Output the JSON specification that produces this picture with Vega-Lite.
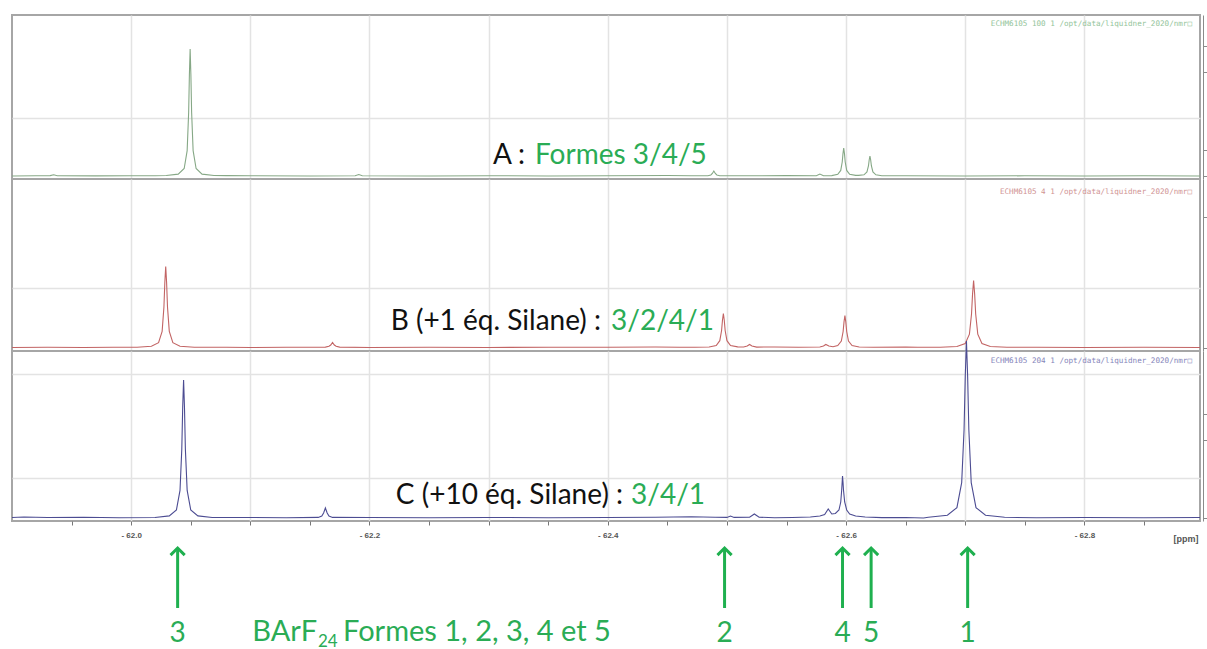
{
  "$schema": "https://vega.github.io/schema/vega-lite/v6.json",
  "background": "white",
  "padding": {"left": 8, "top": 14, "right": 0, "bottom": 4},
  "bounds": "flush",
  "spacing": 0,
  "config": {
    "view": {"stroke": "#a6a6a6", "strokeWidth": 2},
    "text": {"font": "Lato"}
  },
  "datasets": {
    "A": [
      {"ppm": -61.9, "i": 0}, {"ppm": -61.92, "i": 0.2}, {"ppm": -61.932, "i": 0.4}, {"ppm": -61.935, "i": 1.2}, {"ppm": -61.938, "i": 0.3}, {"ppm": -61.97, "i": 0.1}, {"ppm": -62.0, "i": 0.2}, {"ppm": -62.02, "i": 0.3},
      {"ppm": -62.0295, "i": 0.5}, {"ppm": -62.0395, "i": 1.9}, {"ppm": -62.0445, "i": 7.5}, {"ppm": -62.047, "i": 25.4}, {"ppm": -62.04825, "i": 63.5}, {"ppm": -62.048875, "i": 101.6}, {"ppm": -62.0495, "i": 127}, {"ppm": -62.050125, "i": 101.6}, {"ppm": -62.05075, "i": 63.5}, {"ppm": -62.052, "i": 25.4}, {"ppm": -62.0545, "i": 7.5}, {"ppm": -62.0595, "i": 1.9}, {"ppm": -62.0695, "i": 0.5},
      {"ppm": -62.08, "i": 0.4}, {"ppm": -62.1, "i": 0.2}, {"ppm": -62.15, "i": 0}, {"ppm": -62.188, "i": 0.3}, {"ppm": -62.191, "i": 1.5}, {"ppm": -62.194, "i": 0.3}, {"ppm": -62.25, "i": 0}, {"ppm": -62.3, "i": 0.3}, {"ppm": -62.35, "i": 0}, {"ppm": -62.4, "i": 0.2}, {"ppm": -62.45, "i": 0.5}, {"ppm": -62.47, "i": 0.3},
      {"ppm": -62.484, "i": 0.3}, {"ppm": -62.4865, "i": 1}, {"ppm": -62.48775, "i": 2.5}, {"ppm": -62.489, "i": 5}, {"ppm": -62.49025, "i": 2.5}, {"ppm": -62.4915, "i": 1}, {"ppm": -62.494, "i": 0.3},
      {"ppm": -62.52, "i": 0.2}, {"ppm": -62.55, "i": 0.4}, {"ppm": -62.575, "i": 0.3}, {"ppm": -62.578, "i": 2}, {"ppm": -62.581, "i": 0.3},
      {"ppm": -62.588, "i": 0.42}, {"ppm": -62.593, "i": 1.65}, {"ppm": -62.5955, "i": 5.6}, {"ppm": -62.59675, "i": 14}, {"ppm": -62.597375, "i": 22.4}, {"ppm": -62.598, "i": 28}, {"ppm": -62.598625, "i": 22.4}, {"ppm": -62.59925, "i": 14}, {"ppm": -62.6005, "i": 5.6}, {"ppm": -62.603, "i": 1.65}, {"ppm": -62.608, "i": 0.6},
      {"ppm": -62.6105, "i": 0.6}, {"ppm": -62.615, "i": 1.2}, {"ppm": -62.6175, "i": 4}, {"ppm": -62.61875, "i": 10}, {"ppm": -62.619375, "i": 16}, {"ppm": -62.62, "i": 20}, {"ppm": -62.620625, "i": 16}, {"ppm": -62.62125, "i": 10}, {"ppm": -62.6225, "i": 4}, {"ppm": -62.625, "i": 1.2}, {"ppm": -62.63, "i": 0.3},
      {"ppm": -62.65, "i": 0.3}, {"ppm": -62.7, "i": 0}, {"ppm": -62.75, "i": 0.2}, {"ppm": -62.8, "i": 0}, {"ppm": -62.85, "i": 0.3}, {"ppm": -62.897, "i": 0}
    ],
    "B": [
      {"ppm": -61.9, "i": 0}, {"ppm": -61.93, "i": 0.3}, {"ppm": -61.96, "i": 0}, {"ppm": -61.985, "i": 0.3},
      {"ppm": -62.005, "i": 0.3}, {"ppm": -62.017, "i": 1.2}, {"ppm": -62.023, "i": 4.8}, {"ppm": -62.026, "i": 16.2}, {"ppm": -62.0275, "i": 40.5}, {"ppm": -62.02825, "i": 64.8}, {"ppm": -62.029, "i": 81}, {"ppm": -62.02975, "i": 64.8}, {"ppm": -62.0305, "i": 40.5}, {"ppm": -62.032, "i": 16.2}, {"ppm": -62.035, "i": 4.8}, {"ppm": -62.041, "i": 1.2}, {"ppm": -62.053, "i": 0.3},
      {"ppm": -62.08, "i": 0.2}, {"ppm": -62.1, "i": 0}, {"ppm": -62.13, "i": 0.3},
      {"ppm": -62.163, "i": 0.4}, {"ppm": -62.166, "i": 1.2}, {"ppm": -62.1675, "i": 2.5}, {"ppm": -62.169, "i": 5}, {"ppm": -62.1705, "i": 2.5}, {"ppm": -62.172, "i": 1.2}, {"ppm": -62.175, "i": 0.4},
      {"ppm": -62.2, "i": 0}, {"ppm": -62.25, "i": 0.2}, {"ppm": -62.3, "i": 0}, {"ppm": -62.35, "i": 0.3}, {"ppm": -62.4, "i": 0.2}, {"ppm": -62.44, "i": 0.5}, {"ppm": -62.46, "i": 0.3},
      {"ppm": -62.473, "i": 0.2}, {"ppm": -62.485, "i": 0.5}, {"ppm": -62.491, "i": 2}, {"ppm": -62.494, "i": 6.8}, {"ppm": -62.4955, "i": 17}, {"ppm": -62.49625, "i": 27.2}, {"ppm": -62.497, "i": 34}, {"ppm": -62.49775, "i": 27.2}, {"ppm": -62.4985, "i": 17}, {"ppm": -62.5, "i": 6.8}, {"ppm": -62.503, "i": 2}, {"ppm": -62.509, "i": 0.6},
      {"ppm": -62.514, "i": 0.5}, {"ppm": -62.517, "i": 1.5}, {"ppm": -62.519, "i": 3}, {"ppm": -62.521, "i": 1.5}, {"ppm": -62.525, "i": 0.4},
      {"ppm": -62.54, "i": 0.5}, {"ppm": -62.56, "i": 0.3},
      {"ppm": -62.578, "i": 0.5}, {"ppm": -62.581, "i": 1.5}, {"ppm": -62.583, "i": 3}, {"ppm": -62.5855, "i": 1.5}, {"ppm": -62.589, "i": 0.8},
      {"ppm": -62.593, "i": 1.9}, {"ppm": -62.596, "i": 6.4}, {"ppm": -62.5975, "i": 16}, {"ppm": -62.59825, "i": 25.6}, {"ppm": -62.599, "i": 32}, {"ppm": -62.59975, "i": 25.6}, {"ppm": -62.6005, "i": 16}, {"ppm": -62.602, "i": 6.4}, {"ppm": -62.605, "i": 1.9}, {"ppm": -62.611, "i": 0.5}, {"ppm": -62.623, "i": 0.2},
      {"ppm": -62.65, "i": 0.5}, {"ppm": -62.66, "i": 0.2},
      {"ppm": -62.679, "i": 0.27}, {"ppm": -62.693, "i": 1}, {"ppm": -62.7, "i": 4}, {"ppm": -62.7035, "i": 13.4}, {"ppm": -62.70525, "i": 33.5}, {"ppm": -62.706125, "i": 53.6}, {"ppm": -62.707, "i": 67}, {"ppm": -62.707875, "i": 53.6}, {"ppm": -62.70875, "i": 33.5}, {"ppm": -62.7105, "i": 13.4}, {"ppm": -62.714, "i": 4}, {"ppm": -62.721, "i": 1}, {"ppm": -62.735, "i": 0.27},
      {"ppm": -62.76, "i": 0.3}, {"ppm": -62.8, "i": 0}, {"ppm": -62.85, "i": 0.2}, {"ppm": -62.897, "i": 0}
    ],
    "C": [
      {"ppm": -61.9, "i": 0.5}, {"ppm": -61.91, "i": 1}, {"ppm": -61.93, "i": 0.5}, {"ppm": -61.96, "i": 0.8}, {"ppm": -61.99, "i": 0.3},
      {"ppm": -62.02, "i": 0.55}, {"ppm": -62.032, "i": 2.1}, {"ppm": -62.038, "i": 8.1}, {"ppm": -62.041, "i": 27.6}, {"ppm": -62.0425, "i": 69}, {"ppm": -62.04325, "i": 110.4}, {"ppm": -62.044, "i": 138}, {"ppm": -62.04475, "i": 110.4}, {"ppm": -62.0455, "i": 69}, {"ppm": -62.047, "i": 27.6}, {"ppm": -62.05, "i": 8.1}, {"ppm": -62.056, "i": 2.1}, {"ppm": -62.068, "i": 0.55},
      {"ppm": -62.1, "i": 0.5}, {"ppm": -62.13, "i": 0.2},
      {"ppm": -62.157, "i": 0.6}, {"ppm": -62.16, "i": 2}, {"ppm": -62.1615, "i": 5}, {"ppm": -62.163, "i": 10}, {"ppm": -62.1645, "i": 5}, {"ppm": -62.166, "i": 2}, {"ppm": -62.169, "i": 0.6},
      {"ppm": -62.2, "i": 0.5}, {"ppm": -62.25, "i": 0.2}, {"ppm": -62.3, "i": 0.5}, {"ppm": -62.35, "i": 0.3}, {"ppm": -62.4, "i": 0.5}, {"ppm": -62.44, "i": 0.8}, {"ppm": -62.47, "i": 1.2}, {"ppm": -62.49, "i": 0.8},
      {"ppm": -62.5, "i": 0.6}, {"ppm": -62.503, "i": 2}, {"ppm": -62.506, "i": 0.6}, {"ppm": -62.519, "i": 0.8}, {"ppm": -62.523, "i": 4}, {"ppm": -62.527, "i": 0.8}, {"ppm": -62.54, "i": 0.3},
      {"ppm": -62.555, "i": 0.5}, {"ppm": -62.57, "i": 1}, {"ppm": -62.578, "i": 2}, {"ppm": -62.582, "i": 3.5}, {"ppm": -62.585, "i": 9}, {"ppm": -62.588, "i": 4}, {"ppm": -62.591, "i": 4.5}, {"ppm": -62.594, "i": 8}, {"ppm": -62.5955, "i": 16}, {"ppm": -62.5963, "i": 28}, {"ppm": -62.5967, "i": 36}, {"ppm": -62.597, "i": 42}, {"ppm": -62.5974, "i": 36}, {"ppm": -62.5978, "i": 28}, {"ppm": -62.5988, "i": 16}, {"ppm": -62.6005, "i": 8}, {"ppm": -62.603, "i": 4}, {"ppm": -62.608, "i": 2}, {"ppm": -62.616, "i": 1}, {"ppm": -62.63, "i": 0.4},
      {"ppm": -62.65, "i": 0.5}, {"ppm": -62.665, "i": 0},
      {"ppm": -62.669, "i": 0.7}, {"ppm": -62.685, "i": 2.7}, {"ppm": -62.693, "i": 10.4}, {"ppm": -62.697, "i": 35.4}, {"ppm": -62.699, "i": 88.5}, {"ppm": -62.7, "i": 141.6}, {"ppm": -62.701, "i": 177}, {"ppm": -62.702, "i": 141.6}, {"ppm": -62.703, "i": 88.5}, {"ppm": -62.705, "i": 35.4}, {"ppm": -62.709, "i": 10.4}, {"ppm": -62.717, "i": 2.7}, {"ppm": -62.733, "i": 0.7},
      {"ppm": -62.76, "i": 0.3}, {"ppm": -62.8, "i": 0.5}, {"ppm": -62.85, "i": 0.2}, {"ppm": -62.897, "i": 0.5}
    ],
    "arrows": [
      {"ppm": -62.039, "n": "3"}, {"ppm": -62.498, "n": "2"}, {"ppm": -62.597, "n": "4"}, {"ppm": -62.621, "n": "5"}, {"ppm": -62.702, "n": "1"}
    ]
  },
  "vconcat": [
    {
      "width": 1188, "height": 164,
      "title": {"text": "ECHM6105 100 1 /opt/data/liquidner_2020/nmr□", "anchor": "end", "frame": "group", "offset": -13, "dx": -8, "font": "DejaVu Sans Mono", "fontSize": 7.6, "fontWeight": "normal", "color": "#93c49a"},
      "layer": [
        {
          "data": {"name": "A"},
          "mark": {"type": "line", "color": "#86a886", "strokeWidth": 1.1},
          "encoding": {
            "x": {"field": "ppm", "type": "quantitative", "scale": {"domain": [-61.9, -62.897], "nice": false, "zero": false},
                  "axis": {"values": [-62.0, -62.1, -62.2, -62.3, -62.4, -62.5, -62.6, -62.7, -62.8], "grid": true, "gridColor": "#e3e3e3", "gridWidth": 1.5, "labels": false, "ticks": false, "domain": false, "title": null}},
            "y": {"field": "i", "type": "quantitative", "scale": {"domain": [-3, 161], "nice": false, "zero": false},
                  "axis": {"orient": "right", "offset": 3, "values": [0, 8, 26, 52, 58, 78, 104, 110, 130, 156], "labels": false, "tickSize": 4, "tickColor": "#8a8a8a", "domainColor": "#8a8a8a",
                           "tickOpacity": {"condition": {"test": "indexof([0,26,52,78,104,130,156], datum.value) >= 0", "value": 1}, "value": 0},
                           "grid": true, "gridColor": "#e3e3e3", "gridWidth": 1.5,
                           "gridOpacity": {"condition": {"test": "indexof([8,58,110], datum.value) >= 0", "value": 1}, "value": 0}, "title": null}}
          }
        },
        {
          "data": {"values": [{}]},
          "mark": {"type": "text", "align": "right", "baseline": "alphabetic", "fontSize": 28, "color": "#111111"},
          "encoding": {"x": {"datum": -62.3306}, "y": {"datum": 12}, "text": {"value": "A :"}}
        },
        {
          "data": {"values": [{}]},
          "mark": {"type": "text", "align": "left", "baseline": "alphabetic", "fontSize": 28, "color": "#2aac55"},
          "encoding": {"x": {"datum": -62.3389}, "y": {"datum": 12}, "text": {"value": "Formes 3/4/5"}}
        }
      ]
    },
    {
      "width": 1188, "height": 172,
      "title": {"text": "ECHM6105 4 1 /opt/data/liquidner_2020/nmr□", "anchor": "end", "frame": "group", "offset": -17, "dx": -8, "font": "DejaVu Sans Mono", "fontSize": 7.6, "fontWeight": "normal", "color": "#d09393"},
      "layer": [
        {
          "data": {"name": "B"},
          "mark": {"type": "line", "color": "#c26464", "strokeWidth": 1.1},
          "encoding": {
            "x": {"field": "ppm", "type": "quantitative", "scale": {"domain": [-61.9, -62.897], "nice": false, "zero": false},
                  "axis": {"values": [-62.0, -62.1, -62.2, -62.3, -62.4, -62.5, -62.6, -62.7, -62.8], "grid": true, "gridColor": "#e3e3e3", "gridWidth": 1.5, "labels": false, "ticks": false, "domain": false, "title": null}},
            "y": {"field": "i", "type": "quantitative", "scale": {"domain": [-3.5, 168.5], "nice": false, "zero": false},
                  "axis": {"orient": "right", "offset": 3, "values": [0, 8, 26, 52, 60, 78, 104, 112, 130, 156, 164], "labels": false, "tickSize": 4, "tickColor": "#8a8a8a", "domainColor": "#8a8a8a",
                           "tickOpacity": {"condition": {"test": "indexof([0,26,52,78,104,130,156], datum.value) >= 0", "value": 1}, "value": 0},
                           "grid": true, "gridColor": "#e3e3e3", "gridWidth": 1.5,
                           "gridOpacity": {"condition": {"test": "indexof([8,60,112,164], datum.value) >= 0", "value": 1}, "value": 0}, "title": null}}
          }
        },
        {
          "data": {"values": [{}]},
          "mark": {"type": "text", "align": "right", "baseline": "alphabetic", "fontSize": 28, "color": "#111111"},
          "encoding": {"x": {"datum": -62.3943}, "y": {"datum": 17.5}, "text": {"value": "B (+1 éq. Silane) :"}}
        },
        {
          "data": {"values": [{}]},
          "mark": {"type": "text", "align": "left", "baseline": "alphabetic", "fontSize": 28, "color": "#2aac55"},
          "encoding": {"x": {"datum": -62.4027}, "y": {"datum": 17.5}, "text": {"value": "3/2/4/1"}}
        }
      ]
    },
    {
      "width": 1188, "height": 170,
      "title": {"text": "ECHM6105 204 1 /opt/data/liquidner_2020/nmr□", "anchor": "end", "frame": "group", "offset": -26, "dx": -8, "font": "DejaVu Sans Mono", "fontSize": 7.6, "fontWeight": "normal", "color": "#8585ba"},
      "layer": [
        {
          "data": {"name": "C"},
          "mark": {"type": "line", "color": "#4c4c92", "strokeWidth": 1.1},
          "encoding": {
            "x": {"field": "ppm", "type": "quantitative", "scale": {"domain": [-61.9, -62.897], "nice": false, "zero": false},
                  "axis": {"values": [-61.95, -62.0, -62.05, -62.1, -62.15, -62.2, -62.25, -62.3, -62.35, -62.4, -62.45, -62.5, -62.55, -62.6, -62.65, -62.7, -62.75, -62.8, -62.85],
                           "domain": false, "ticks": true, "tickSize": 4, "tickColor": "#777777",
                           "grid": true, "gridColor": "#e3e3e3", "gridWidth": 1.5,
                           "gridOpacity": {"condition": {"test": "round(abs(datum.value)*100) % 10 === 0", "value": 1}, "value": 0},
                           "labelExpr": "round(abs(datum.value)*100) % 20 === 0 ? '- ' + format(abs(datum.value), '.1f') : ''",
                           "labelFont": "Liberation Sans", "labelFontSize": 8, "labelFontWeight": "bold", "labelColor": "#555555", "labelPadding": 6, "labelOverlap": false, "labelFlush": false,
                           "title": "[ppm]", "titleAnchor": "end", "titleAlign": "right", "titleBaseline": "middle", "titleX": 1186, "titleY": 17,
                           "titleFont": "Liberation Sans", "titleFontSize": 9, "titleFontWeight": "bold", "titleColor": "#555555"}},
            "y": {"field": "i", "type": "quantitative", "scale": {"domain": [-3, 167], "nice": false, "zero": false},
                  "axis": {"orient": "right", "offset": 3, "values": [0, 26, 40, 52, 78, 91, 104, 130, 144, 156], "labels": false, "tickSize": 4, "tickColor": "#8a8a8a", "domainColor": "#8a8a8a",
                           "tickOpacity": {"condition": {"test": "indexof([0,26,52,78,104,130,156], datum.value) >= 0", "value": 1}, "value": 0},
                           "grid": true, "gridColor": "#e3e3e3", "gridWidth": 1.5,
                           "gridOpacity": {"condition": {"test": "indexof([40,91,144], datum.value) >= 0", "value": 1}, "value": 0}, "title": null}}
          }
        },
        {
          "data": {"values": [{}]},
          "mark": {"type": "text", "align": "right", "baseline": "alphabetic", "fontSize": 28, "color": "#111111"},
          "encoding": {"x": {"datum": -62.4128}, "y": {"datum": 14}, "text": {"value": "C (+10 éq. Silane) :"}}
        },
        {
          "data": {"values": [{}]},
          "mark": {"type": "text", "align": "left", "baseline": "alphabetic", "fontSize": 28, "color": "#2aac55"},
          "encoding": {"x": {"datum": -62.4195}, "y": {"datum": 14}, "text": {"value": "3/4/1"}}
        }
      ]
    },
    {
      "width": 1188, "height": 125,
      "view": {"stroke": null},
      "layer": [
        {
          "data": {"name": "arrows"},
          "mark": {"type": "rule", "color": "#1fb04f", "strokeWidth": 3},
          "encoding": {
            "x": {"field": "ppm", "type": "quantitative", "scale": {"domain": [-61.9, -62.897], "nice": false, "zero": false}, "axis": null},
            "y": {"datum": 97, "type": "quantitative", "scale": {"domain": [0, 125], "nice": false, "zero": false}, "axis": null},
            "y2": {"datum": 38}
          }
        },
        {
          "data": {"name": "arrows"},
          "mark": {"type": "point", "shape": "M -1 1 L 0 0 L 1 1", "filled": false, "color": "#1fb04f", "strokeWidth": 3, "size": 200, "opacity": 1},
          "encoding": {
            "x": {"field": "ppm", "type": "quantitative"},
            "y": {"datum": 98, "type": "quantitative"}
          }
        },
        {
          "data": {"name": "arrows"},
          "mark": {"type": "text", "align": "center", "baseline": "alphabetic", "fontSize": 28, "color": "#2aac55"},
          "encoding": {
            "x": {"field": "ppm", "type": "quantitative"},
            "y": {"datum": 4, "type": "quantitative"},
            "text": {"field": "n"}
          }
        },
        {
          "data": {"values": [{}]},
          "mark": {"type": "text", "align": "right", "baseline": "alphabetic", "fontSize": 29, "color": "#2aac55"},
          "encoding": {"x": {"datum": -62.156}, "y": {"datum": 5}, "text": {"value": "BArF"}}
        },
        {
          "data": {"values": [{}]},
          "mark": {"type": "text", "align": "left", "baseline": "alphabetic", "fontSize": 17, "color": "#2aac55"},
          "encoding": {"x": {"datum": -62.1568}, "y": {"datum": -1}, "text": {"value": "24"}}
        },
        {
          "data": {"values": [{}]},
          "mark": {"type": "text", "align": "left", "baseline": "alphabetic", "fontSize": 29, "color": "#2aac55"},
          "encoding": {"x": {"datum": -62.1778}, "y": {"datum": 5}, "text": {"value": "Formes 1, 2, 3, 4 et 5"}}
        }
      ]
    }
  ]
}
